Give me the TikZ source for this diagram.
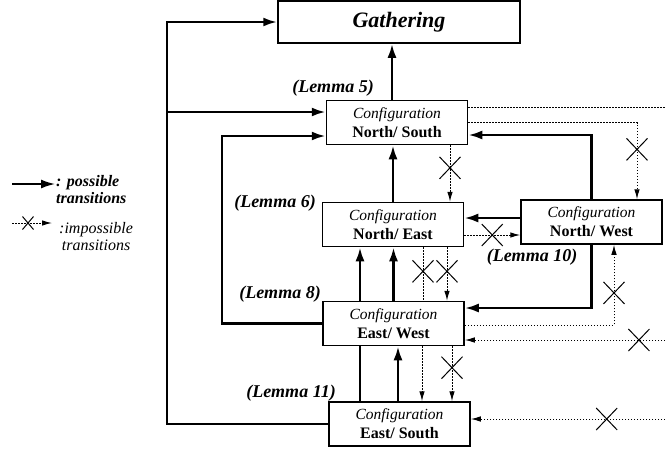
\documentclass[tikz,border=0pt]{standalone}
\usepackage{fontspec}
\setmainfont{Liberation Serif}
\usetikzlibrary{arrows.meta,shapes.misc}

\newcommand{\cfgtxt}[1]{{\itshape Configuration}\\{\bfseries\fontsize{16}{19}\selectfont #1}}

\begin{document}
\begin{tikzpicture}[
  x=1pt, y=-1pt,
  cfg/.style   ={draw, fill=white, line width=1.5pt, minimum width=141pt, minimum height=44pt,
                 inner sep=1pt, align=center, font=\fontsize{15.5}{19}\selectfont},
  lem/.style   ={font=\fontsize{18}{20}\selectfont\bfseries\itshape},
  legtxt/.style={align=left, inner sep=0pt, font=\fontsize{16}{17}\selectfont\itshape},
  posarr/.style={-{Latex[length=14pt,width=9pt]}, line width=2.6pt},
  posline/.style={line width=2.6pt},
  imparr/.style={-{Latex[length=10pt,width=5.5pt]}, line width=1pt, dash pattern=on 1.5pt off 1.5pt},
  impline/.style={line width=1pt, dash pattern=on 1.5pt off 1.5pt},
  xmark/.style ={draw, cross out, solid, line width=1pt, minimum width=20pt, minimum height=21pt, inner sep=0pt},
]
\useasboundingbox (0,0) rectangle (665,451);

% ======================= configurations =======================
\node[cfg, minimum width=242pt, minimum height=42pt, font=\fontsize{22}{24}\selectfont\bfseries\itshape]
      (Gath) at (399,22) {Gathering};
\node[cfg] (NS) at (397,122.5) {\cfgtxt{North/ South}};
\node[cfg] (NE) at (393,224.5) {\cfgtxt{North/ East}};
\node[cfg] (NW) at (591.5,222) {\cfgtxt{North/ West}};
\node[cfg] (EW) at (393.5,323.5) {\cfgtxt{East/ West}};
\node[cfg] (ES) at (399.5,424) {\cfgtxt{East/ South}};

\node[lem] (L5)  at (333,88)  {(Lemma 5)};
\node[lem] (L6)  at (275,203) {(Lemma 6)};
\node[lem] (L8)  at (280,294) {(Lemma 8)};
\node[lem] (L10) at (532,257) {(Lemma 10)};
\node[lem] (L11) at (291,393) {(Lemma 11)};

% attachment points
\coordinate (jL) at (167,112);
\coordinate (jM) at (222,136);
\coordinate (aG)    at ([xshift=-5pt]NS.north);
\coordinate (aNSne) at ([xshift=53pt]NS.south);
\coordinate (aNSr)  at ([yshift=-12.5pt]NS.east);
\coordinate (aNStop) at ([yshift=15.5pt]NS.east);
\coordinate (aNWx)  at ([xshift=45.5pt]NW.north);
\coordinate (aNWw)  at ([yshift=4pt]NW.west);
\coordinate (aNEe)  at ([yshift=-10.5pt]NE.east);
\coordinate (aEWn1) at ([xshift=-33.5pt]EW.north);
\coordinate (aNEs1) at ([xshift=30pt]NE.south);
\coordinate (aNEs2) at ([xshift=54pt]NE.south);
\coordinate (aEWe1) at ([yshift=15.5pt]EW.east);
\coordinate (aEWe2) at ([yshift=-1.5pt]EW.east);
\coordinate (aNWs)  at ([xshift=22.5pt]NW.south);
\coordinate (aESn1) at ([xshift=-39.5pt]ES.north);
\coordinate (aESn2) at ([xshift=-1.5pt]ES.north);
\coordinate (aEWs1) at ([xshift=28.5pt]EW.south);
\coordinate (aEWs2) at ([xshift=58.5pt]EW.south);
\coordinate (eR1) at (665,107);
\coordinate (eR2) at (665,340);
\coordinate (eR3) at (665,419);

% ======================= possible transitions =======================
\draw[posarr] (aG) -- (aG |- Gath.south);
\draw[posarr] (ES.west) -| (jL |- Gath.west) -- (Gath.west);
\draw[posarr] (jL) -- (jL -| NS.west);
\draw[posarr] (EW.west) -| (jM) -- (jM -| NS.west);
\draw[posarr] (NE.north) -- (NE.north |- NS.south);
\draw[posarr] (NW.north) |- (aNSr);
\draw[posarr] (aNWw) -- (aNWw -| NE.east);
\draw[posarr] (aEWn1) -- (aEWn1 |- NE.south);
\draw[posarr] (EW.north) -- (EW.north |- NE.south);
\draw[posarr] (NW.south) |- (aEWe1);
\draw[posarr] (aESn2) -- (aESn2 |- EW.south);
\draw[posline] (aESn1) -- (aESn1 |- EW.south);

% ======================= impossible transitions =======================
\draw[impline] (aNStop) -- (eR1);
\draw[imparr] (aNSne) -- node[xmark, pos=0.4]{} (aNSne |- NE.north);
\draw[imparr] (NS.east) -| node[xmark, pos=0.675]{} (aNWx);
\draw[imparr] (aNEe) -- node[xmark]{} (aNEe -| NW.west);
\draw[impline] (aNEs1) -- node[xmark, pos=0.45]{} (aNEs1 |- EW.north);
\draw[imparr] (aNEs2) -- node[xmark, pos=0.45]{} (aNEs2 |- EW.north);
\draw[imparr] (aEWe2) -| node[xmark, pos=0.7]{} (aNWs);
\draw[imparr] (eR2) -- node[xmark, pos=0.13]{} (eR2 -| EW.east);
\draw[imparr] (aEWs1) -- (aEWs1 |- ES.north);
\draw[imparr] (aEWs2) -- node[xmark, pos=0.39]{} (aEWs2 |- ES.north);
\draw[imparr] (eR3) -- node[xmark, pos=0.3]{} (eR3 -| ES.east);

% ======================= key =======================
\coordinate (lgA) at (12,184);
\coordinate (lgB) at (55,184);
\coordinate (lgC) at (12,223);
\coordinate (lgD) at (52,223);
\draw[posarr, line width=1.6pt] (lgA) -- (lgB);
\draw[imparr] (lgC) -- node[xmark, pos=0.4, minimum width=10pt, minimum height=12pt]{} (lgD);
\node[legtxt, anchor=west, font=\fontsize{16}{17}\selectfont\bfseries\itshape] (lgP) at (56,190) {: possible\\transitions};
\node[legtxt, anchor=west] (lgI) at (59,237) {:impossible\\\,transitions};
\end{tikzpicture}
\end{document}
